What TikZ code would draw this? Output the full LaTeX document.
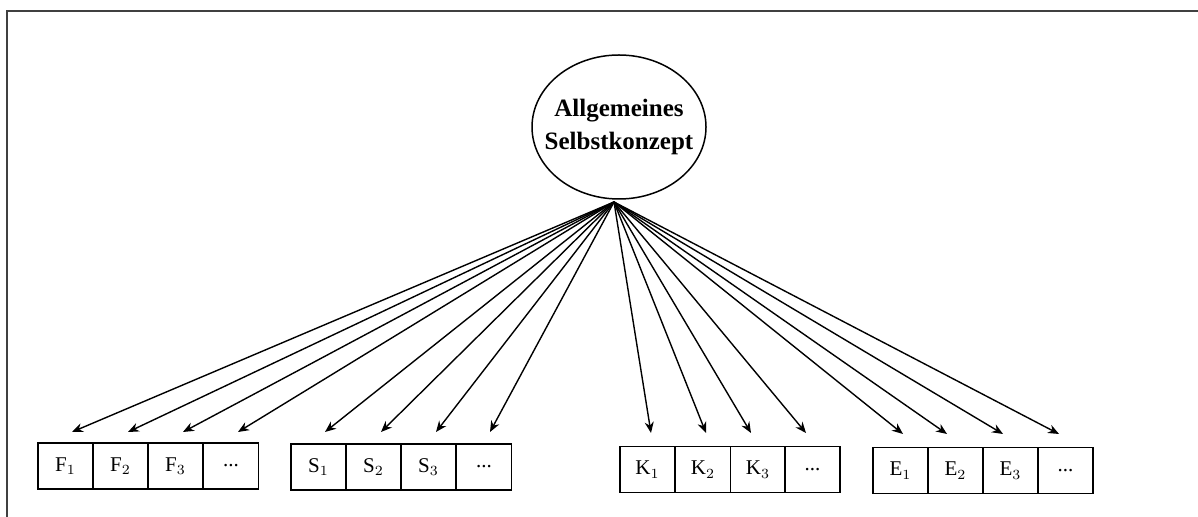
\documentclass[tikz,border=0pt]{standalone}
\usepackage{fontspec}
\setmainfont{Liberation Serif}
\usetikzlibrary{arrows.meta,shapes.geometric}
\begin{document}
\begin{tikzpicture}[x=0.5pt,y=-0.5pt,
  cell/.style={draw, line width=0.75pt, minimum width=27.5pt, minimum height=23pt, inner sep=0pt, font=\fontsize{10.5}{12}\selectfont},
  conn/.style={line width=0.7pt, -{Stealth[length=5.5pt,width=4.5pt]}},
  frame/.style={line width=1pt, draw=black!75}]
\useasboundingbox (0,0) rectangle (1198,517);
\begin{scope}
\clip (0,0) rectangle (1198,517);
\draw[frame] (7,530) -- (7,11) -- (1220,11);
\end{scope}
\node[draw, ellipse, line width=0.75pt, minimum width=87pt, minimum height=72pt, inner xsep=-7pt, inner ysep=0pt,
  align=center, font=\fontsize{12.5}{16.5}\selectfont\bfseries] (top) at (619,127) {Allgemeines\\Selbstkonzept};
\coordinate (apex) at (614,202);
% F group
\node[cell] (f1) at (65.5,466) {F$_1$};
\node[cell] (f2) at (120.5,466) {F$_2$};
\node[cell] (f3) at (175.5,466) {F$_3$};
\node[cell] (f4) at (231,466) {...};
% S group
\node[cell] (s1) at (318.5,467) {S$_1$};
\node[cell] (s2) at (373.5,467) {S$_2$};
\node[cell] (s3) at (428.5,467) {S$_3$};
\node[cell] (s4) at (484,467) {...};
% K group
\node[cell] (k1) at (647.5,469.5) {K$_1$};
\node[cell] (k2) at (703,469.5) {K$_2$};
\node[cell] (k3) at (758,469.5) {K$_3$};
\node[cell] (k4) at (812.5,469.5) {...};
% E group
\node[cell] (e1) at (900.5,470.5) {E$_1$};
\node[cell] (e2) at (955.5,470.5) {E$_2$};
\node[cell] (e3) at (1010.5,470.5) {E$_3$};
\node[cell] (e4) at (1065.5,470.5) {...};
% arrow tips
\coordinate (tf1) at (72,432);
\coordinate (tf2) at (128,432);
\coordinate (tf3) at (183,432);
\coordinate (tf4) at (238,432);
\coordinate (ts1) at (325,432);
\coordinate (ts2) at (381,432);
\coordinate (ts3) at (436,432);
\coordinate (ts4) at (490,432);
\coordinate (tk1) at (651,433);
\coordinate (tk2) at (706,433);
\coordinate (tk3) at (751,433);
\coordinate (tk4) at (806,433);
\coordinate (te1) at (903,434);
\coordinate (te2) at (947,434);
\coordinate (te3) at (1003,434);
\coordinate (te4) at (1059,434);
\foreach \t in {tf1,tf2,tf3,tf4,ts1,ts2,ts3,ts4,tk1,tk2,tk3,tk4,te1,te2,te3,te4}
  \draw[conn] (apex) -- (\t);
\end{tikzpicture}
\end{document}
